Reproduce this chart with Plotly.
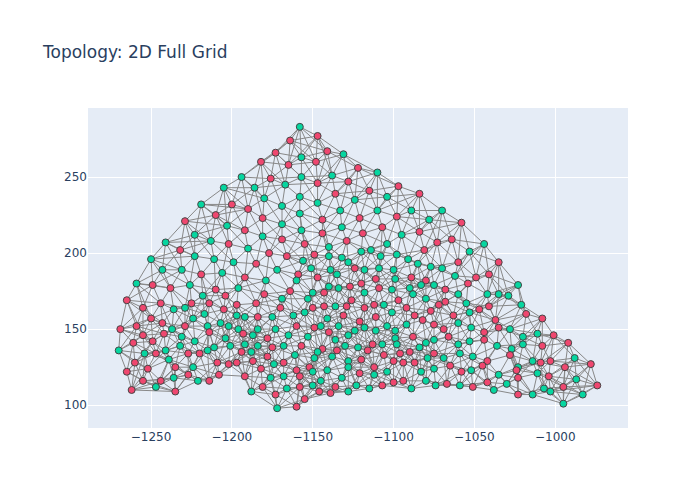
import numpy as np
import plotly.graph_objects as go

# node positions, grouped by region of the plot
nw_x = [-1182, -1194, -1205, -1186, -1219, -1200, -1190, -1229, -1210, -1181, -1203, -1223,
        -1192, -1241, -1213, -1202, -1232, -1190, -1250, -1223, -1211, -1199, -1185]
nw_y = [260, 250, 243, 243, 232, 232, 229, 221, 225, 223, 218, 212,
        215, 207, 208, 206, 202, 203, 196, 198, 196, 194, 193]
nw_kind = list("RGGGGRRRRRGGRGGRRGGGGGR")

n_x = [-1158, -1147, -1164, -1141, -1131, -1173, -1157, -1165, -1148, -1122,
       -1110, -1176, -1157, -1138, -1128, -1167, -1147, -1097, -1115, -1084,
       -1180, -1158, -1136, -1124, -1104, -1169, -1147, -1133, -1110, -1089,
       -1158, -1144, -1121, -1098, -1078, -1169, -1132, -1107, -1157, -1144,
       -1119, -1095, -1084, -1181, -1169, -1155, -1140, -1129, -1104, -1177,
       -1166, -1149, -1156, -1140, -1132, -1120, -1114, -1128, -1108, -1098,
       -1091, -1085, -1081]
n_y = [283, 277, 274, 267, 265, 266, 263, 258, 260, 256,
       253, 249, 250, 251, 247, 245, 246, 244, 241, 239,
       236, 237, 239, 235, 237, 231, 233, 228, 228, 228,
       226, 222, 223, 224, 222, 219, 217, 217, 215, 213,
       213, 212, 214, 211, 209, 206, 204, 208, 206, 200,
       198, 199, 195, 198, 197, 201, 202, 194, 198, 199,
       196, 193, 202]
n_kind = list("GRRRGRGRRR" "GRGGRGRRRR" "GGRGGGGGGG" "GRRRGGGRGR"
              "RGRGRRGRGR" "RRGGGGGGGG" "GGR")

ne_x = [-1070, -1058, -1073, -1064, -1044, -1053, -1060, -1035]
ne_y = [228, 220, 207, 209, 206, 201, 194, 194]
ne_kind = list("GRRRGGRR")

sw_x = [-1243, -1231, -1219, -1206, -1192, -1259, -1249, -1238, -1226, -1210,
        -1196, -1218, -1204, -1265, -1255, -1244, -1236, -1229, -1225, -1214,
        -1205, -1197, -1185, -1250, -1243, -1224, -1217, -1229, -1215, -1207,
        -1202, -1197, -1192, -1184, -1269, -1259, -1237, -1196, -1184, -1255,
        -1242, -1231, -1214, -1193, -1187, -1261, -1249, -1223, -1204, -1270,
        -1254, -1247, -1241, -1232, -1227, -1220, -1215, -1211, -1201, -1192,
        -1184, -1194, -1188, -1239, -1260, -1235, -1224, -1209, -1202, -1197,
        -1187, -1265, -1252, -1227, -1236, -1208, -1192, -1182, -1255, -1244,
        -1221, -1214, -1188, -1181, -1262, -1247, -1235]
sw_y = [189, 189, 186, 187, 184, 180, 179, 177, 179, 176,
        177, 172, 172, 169, 164, 167, 163, 164, 167, 167,
        163, 166, 167, 157, 154, 157, 160, 152, 152, 154,
        152, 159, 158, 158, 150, 152, 150, 150, 150, 146,
        147, 145, 148, 147, 146, 141, 142, 142, 144, 136,
        134, 134, 136, 139, 134, 134, 136, 138, 139, 140,
        139, 135, 135, 130, 128, 125, 125, 128, 127, 128,
        129, 122, 124, 120, 118, 120, 119, 124, 116, 116,
        116, 116, 109, 112, 110, 112, 109]
sw_kind = list("GGRGRGRRGR" "GGRRRRGGRR" "RRRRRGGRGG" "GGGRRRGGGR"
               "RGRRGRRGGG" "GRGGRRGGGG" "GRGGRRGRRR" "RRRRGRRRRR" "GRGRRGR")

s_x = [-1172, -1151, -1139, -1124, -1118, -1109, -1100, -1077, -1159, -1179,
       -1160, -1147, -1135, -1111, -1099, -1089, -1080, -1180, -1164, -1150,
       -1143, -1140, -1134, -1127, -1120, -1118, -1109, -1101, -1090, -1083,
       -1088, -1169, -1153, -1126, -1097, -1080, -1170, -1150, -1143, -1136,
       -1129, -1118, -1112, -1106, -1092, -1155, -1101, -1077, -1175, -1162,
       -1141, -1131, -1111, -1121, -1087, -1082, -1160, -1149, -1145, -1134,
       -1118, -1104, -1092, -1173, -1140, -1124, -1111, -1099, -1165, -1153,
       -1128, -1099, -1088, -1178, -1136, -1113, -1107, -1080, -1175, -1168,
       -1157, -1130, -1122, -1135, -1144, -1147, -1116, -1098, -1084, -1090,
       -1096, -1106, -1178, -1161, -1138, -1128, -1120, -1100, -1094, -1087,
       -1149, -1079, -1174, -1168, -1152, -1160, -1158, -1141, -1150, -1128,
       -1121, -1112, -1104, -1083, -1176, -1168, -1145, -1132, -1112, -1100,
       -1094, -1080, -1166, -1158, -1150, -1146, -1139, -1136, -1128, -1123,
       -1115, -1107, -1089, -1173, -1155, -1172, -1160]
s_y = [189, 190, 189, 190, 189, 190, 189, 191, 186, 182,
       182, 184, 186, 183, 183, 184, 182, 173, 175, 174,
       174, 178, 177, 178, 180, 174, 177, 176, 177, 179,
       173, 170, 170, 169, 169, 170, 164, 164, 165, 165,
       165, 164, 166, 166, 164, 161, 161, 162, 158, 159,
       157, 159, 158, 155, 159, 156, 152, 151, 152, 152,
       151, 152, 153, 150, 148, 149, 149, 149, 146, 145,
       146, 144, 145, 144, 143, 140, 140, 141, 138, 139,
       139, 139, 138, 136, 137, 135, 136, 140, 138, 135,
       134, 133, 132, 133, 132, 129, 130, 129, 128, 128,
       131, 131, 127, 128, 125, 123, 119, 123, 122, 125,
       121, 125, 122, 122, 118, 119, 116, 118, 120, 115,
       116, 116, 111, 112, 113, 109, 108, 112, 109, 113,
       111, 113, 111, 107, 104, 98, 99]
s_kind = list("GGGRGGGGRG" "GRGRGRRRRG" "RGGRRGRGGG" "GGGRRGRRRG"
              "RRRGRGGRGG" "GRRRRRRRGG" "GGGGRGGGGG" "GGRRGRGGRG"
              "RGGRRGRGGR" "RRRGGGRRRR" "GGGRRRRGGG" "RRGGGGGGGR"
              "RGGRGRRRGG" "GRGRRGR")

se_x = [-1070, -1062, -1049, -1041, -1075, -1068, -1054, -1023, -1060, -1042,
        -1035, -1029, -1072, -1068, -1055, -1047, -1041, -1021, -1063, -1053,
        -1018, -1008, -1075, -1060, -1037, -1035, -1052, -1069, -1028, -1044,
        -1011, -1001, -1066, -1075, -1053, -1044, -1060, -1020, -1020, -1036,
        -1008, -992, -1027, -1075, -1059, -1051, -1028, -988, -1014, -1042,
        -1003, -1009, -978, -1069, -1065, -1045, -1023, -1024, -1075, -1058,
        -1052, -994, -1035, -1011, -1023, -1004, -987, -1042, -1030, -1074,
        -1067, -1059, -1051, -1038, -1007, -1003, -995, -974, -1023, -1014,
        -983, -995]
se_y = [190, 185, 184, 186, 179, 176, 180, 179, 173, 173,
        173, 172, 166, 168, 167, 163, 165, 166, 159, 161,
        160, 157, 153, 154, 156, 151, 151, 150, 150, 148,
        147, 146, 145, 143, 142, 143, 140, 145, 140, 139,
        139, 141, 137, 134, 134, 132, 133, 131, 129, 129,
        129, 128, 127, 131, 126, 126, 125, 123, 124, 122,
        123, 125, 120, 121, 118, 119, 117, 115, 114, 113,
        114, 113, 112, 110, 111, 109, 112, 113, 107, 107,
        107, 101]
se_kind = list("GGRRGRRGGG" "GGRRGRRGRG" "RRRGRRGRGR" "GRRGGRGGGG"
               "RRGRGGRGGR" "RRRGRRGRGR" "GRGGRRGRGG" "RGRGGGRRRG" "GG")

kind_colors = {"R": "#EF476F", "G": "#06D6A0"}

node_x = np.array(nw_x + n_x + ne_x + sw_x + s_x + se_x, dtype=float)
node_y = np.array(nw_y + n_y + ne_y + sw_y + s_y + se_y, dtype=float)
node_kind = nw_kind + n_kind + ne_kind + sw_kind + s_kind + se_kind

# links: close neighbours plus each node's nearest few
dx = node_x[:, None] - node_x[None, :]
dy = node_y[:, None] - node_y[None, :]
dist = np.hypot(dx, dy)
np.fill_diagonal(dist, np.inf)
near = np.argsort(dist, axis=1)[:, :8]
links = set()
for i in range(len(node_x)):
    for j in np.where(dist[i] < 17)[0]:
        links.add((min(i, j), max(i, j)))
    for j in near[i]:
        if dist[i, j] < 30:
            links.add((min(i, j), max(i, j)))

edge_x, edge_y = [], []
for i, j in sorted(links):
    edge_x += [node_x[i], node_x[j], None]
    edge_y += [node_y[i], node_y[j], None]

fig = go.Figure()
fig.add_trace(go.Scatter(
    x=edge_x, y=edge_y, mode="lines",
    line=dict(color="#888", width=1),
    hoverinfo="none",
))
fig.add_trace(go.Scatter(
    x=node_x, y=node_y, mode="markers",
    marker=dict(size=7, color=[kind_colors[k] for k in node_kind],
                line=dict(color="#444", width=1)),
    hoverinfo="x+y",
))

fig.update_layout(
    title="Topology: 2D Full Grid",
    font=dict(family="DejaVu Sans"),
    width=700, height=500,
    showlegend=False,
    xaxis=dict(range=[-1289, -955]),
    yaxis=dict(range=[85, 295.4]),
)

fig.write_html("out.html")
